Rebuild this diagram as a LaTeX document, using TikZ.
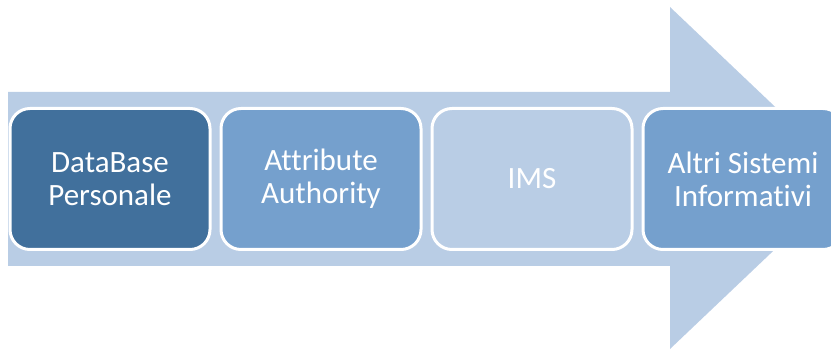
\documentclass[tikz,border=0pt]{standalone}
\usepackage{fontspec}
\setmainfont[Ligatures=NoCommon]{Carlito}
\definecolor{arrowfill}{HTML}{B9CDE5}
\definecolor{darkbox}{HTML}{41709C}
\definecolor{midbox}{HTML}{75A0CD}
\begin{document}
\begin{tikzpicture}[x=1pt,y=-1pt,
  stagebox/.style={draw=white, line width=3pt, rounded corners=20pt, minimum width=200pt, minimum height=141pt,
    text=white, align=center, font=\fontsize{31}{33}\selectfont, inner sep=0pt}]
\useasboundingbox (0,0) rectangle (831,350);
\clip (0,0) rectangle (831,350);
\fill[arrowfill] (8,92) -- (670,92) -- (670,7) -- (850,178) -- (670,349) -- (670,266) -- (8,266) -- cycle;
\node[stagebox, fill=darkbox] (db) at (110,179) {DataBase\\Personale};
\node[stagebox, fill=midbox] (aa) at (321,179) {Attribute\\Authority};
\node[stagebox, fill=arrowfill] (ims) at (532,179) {IMS};
\node[stagebox, fill=midbox] (alt) at (743,179) {Altri Sistemi\\Informativi};
\end{tikzpicture}
\end{document}
